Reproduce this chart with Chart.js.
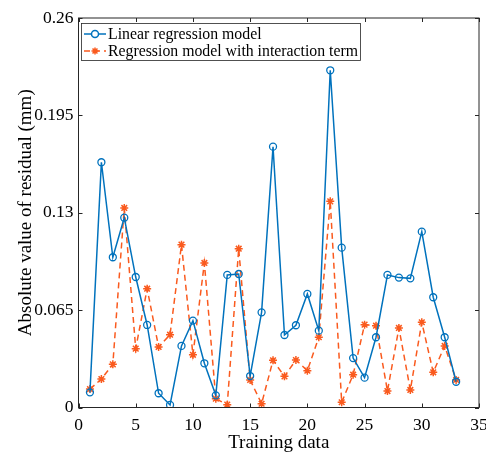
<!DOCTYPE html>
<html>
<head>
<meta charset="utf-8">
<script src="https://cdn.jsdelivr.net/npm/chart.js@4/dist/chart.umd.min.js"></script>
<style>
html,body{margin:0;padding:0;background:#fff;}
#wrap{width:486px;height:455px;position:relative;}
</style>
</head>
<body>
<div id="wrap"><canvas id="c" width="486" height="455"></canvas></div>
<script>
const trainingIndex = [1,2,3,4,5,6,7,8,9,10,11,12,13,14,15,16,17,18,19,20,21,22,23,24,25,26,27,28,29,30,31,32,33];
const linearModel = [0.0101,0.1637,0.1003,0.1267,0.0871,0.0551,0.0095,0.0017,0.0411,0.0580,0.0295,0.0081,0.0885,0.0891,0.0210,0.0635,0.1741,0.0484,0.0549,0.0758,0.0513,0.2251,0.1067,0.0330,0.0199,0.0469,0.0885,0.0867,0.0862,0.1174,0.0736,0.0469,0.0172];
const interactionModel = [0.0123,0.0190,0.0288,0.1332,0.0393,0.0793,0.0404,0.0486,0.1087,0.0352,0.0965,0.0059,0.0019,0.1060,0.0184,0.0025,0.0315,0.0208,0.0317,0.0246,0.0469,0.1376,0.0035,0.0219,0.0553,0.0546,0.0110,0.0531,0.0117,0.0569,0.0235,0.0411,0.0184];
const seriesLabels = ['Linear regression model','Regression model with interaction term'];
const xTicks = [0,5,10,15,20,25,30,35];
const yTicks = [0,0.065,0.13,0.195,0.26];
const yTickLabels = ['0','0.065','0.13','0.195','0.26'];

const BLUE = '#0072BD';
const ORANGE = '#FA5A1E';
const FONT = '"Liberation Serif", "Times New Roman", serif';

const frame = {
  id: 'frame',
  afterDraw(chart) {
    const ctx = chart.ctx;
    const a = chart.chartArea;
    const xs = chart.scales.x, ys = chart.scales.y;
    ctx.save();
    ctx.strokeStyle = '#262626';
    ctx.lineWidth = 1;
    ctx.strokeRect(a.left, a.top, a.right - a.left, a.bottom - a.top);
    const L = 4;
    ctx.beginPath();
    xTicks.forEach(v => {
      const px = Math.round(xs.getPixelForValue(v)) + 0.5;
      ctx.moveTo(px, a.bottom); ctx.lineTo(px, a.bottom - L);
      ctx.moveTo(px, a.top); ctx.lineTo(px, a.top + L);
    });
    yTicks.forEach(v => {
      const py = Math.round(ys.getPixelForValue(v)) + 0.5;
      ctx.moveTo(a.left, py); ctx.lineTo(a.left + L, py);
      ctx.moveTo(a.right, py); ctx.lineTo(a.right - L, py);
    });
    ctx.stroke();

    // legend
    const lx = 81, ly = 23, lw = 279, lh = 37;
    ctx.fillStyle = '#fff';
    ctx.fillRect(lx, ly, lw, lh);
    ctx.strokeStyle = '#262626';
    ctx.lineWidth = 0.8;
    ctx.strokeRect(lx + 0.5, ly + 0.5, lw, lh);
    const rows = [ly + 11, ly + 28];
    chart.data.datasets.forEach((ds, i) => {
      const y = rows[i];
      ctx.save();
      ctx.strokeStyle = ds.borderColor;
      ctx.lineWidth = 1.5;
      ctx.setLineDash(ds.borderDash || []);
      ctx.beginPath();
      ctx.moveTo(84, y); ctx.lineTo(106, y);
      ctx.stroke();
      ctx.setLineDash([]);
      Chart.helpers.drawPoint(ctx, {pointStyle: ds.pointStyle, radius: 3.5, borderWidth: 1.3}, 95, y);
      ctx.restore();
      ctx.fillStyle = '#000';
      ctx.font = '15.8px ' + FONT;
      ctx.textBaseline = 'middle';
      ctx.textAlign = 'left';
      ctx.fillText(ds.label, 108, y + 1);
    });

    // x-axis title centred on the plot area
    ctx.fillStyle = '#000';
    ctx.font = '19px ' + FONT;
    ctx.textAlign = 'center';
    ctx.textBaseline = 'middle';
    ctx.fillText('Training data', (a.left + a.right) / 2, 443);
    ctx.restore();
  }
};

new Chart(document.getElementById('c'), {
  type: 'line',
  data: {
    labels: trainingIndex,
    datasets: [
      {
        label: seriesLabels[0],
        data: trainingIndex.map((x, i) => ({x: x, y: linearModel[i]})),
        borderColor: BLUE,
        backgroundColor: 'rgba(255,255,255,0)',
        borderWidth: 1.5,
        pointStyle: 'circle',
        pointRadius: 3.5,
        pointBorderWidth: 1.3,
        pointBackgroundColor: 'rgba(255,255,255,0)',
        pointBorderColor: BLUE,
        tension: 0,
        order: 1
      },
      {
        label: seriesLabels[1],
        data: trainingIndex.map((x, i) => ({x: x, y: interactionModel[i]})),
        borderColor: ORANGE,
        backgroundColor: ORANGE,
        borderWidth: 1.5,
        borderDash: [6, 4],
        pointStyle: 'star',
        pointRadius: 4,
        pointBorderWidth: 1.5,
        pointBorderColor: ORANGE,
        tension: 0,
        order: 2
      }
    ]
  },
  options: {
    responsive: false,
    animation: false,
    layout: {padding: {top: 18, right: 7, left: 0, bottom: 0}},
    plugins: {legend: {display: false}, tooltip: {enabled: false}},
    scales: {
      x: {
        type: 'linear',
        min: 0, max: 35,
        afterBuildTicks: s => { s.ticks = xTicks.map(v => ({value: v})); },
        afterFit: s => { s.height = 47.5; s.paddingLeft = 0; s.paddingRight = 0; },
        grid: {display: false, drawTicks: false},
        border: {display: false},
        ticks: {color: '#000', font: {family: FONT, size: 17.5}, padding: 7, maxRotation: 0},
        title: {display: false, text: 'Training data'}
      },
      y: {
        type: 'linear',
        min: 0, max: 0.26,
        afterBuildTicks: s => { s.ticks = yTicks.map(v => ({value: v})); },
        afterFit: s => { s.width = 78.5; s.paddingTop = 0; s.paddingBottom = 0; },
        grid: {display: false, drawTicks: false},
        border: {display: false},
        ticks: {color: '#000', font: {family: FONT, size: 17.5}, padding: 5,
          callback: (v) => { const i = yTicks.indexOf(v); return i >= 0 ? yTickLabels[i] : ''; }},
        title: {display: true, text: 'Absolute value of residual (mm)', color: '#000', font: {family: FONT, size: 19}, padding: {top: 15, bottom: 0}}
      }
    }
  },
  plugins: [frame]
});
</script>
</body>
</html>
